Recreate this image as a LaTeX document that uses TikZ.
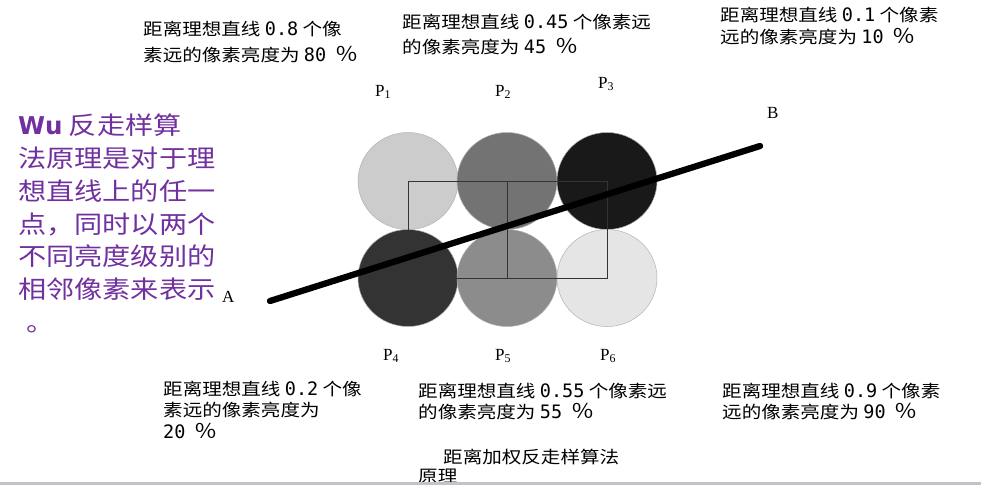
\documentclass[tikz,border=0pt]{standalone}
\usepackage{fontspec}
\newfontfamily\cjk[FakeStretch=1.15]{Noto Sans CJK SC}
\newfontfamily\monofont{DejaVu Sans Mono}
\newfontfamily\serifA{Liberation Serif}
\newfontfamily\wufont{DejaVu Sans}
\usetikzlibrary{shapes.geometric}
\definecolor{wupurple}{RGB}{112,48,160}
\definecolor{barcol}{RGB}{192,196,200}
\newcommand{\dig}[1]{{\monofont\fontsize{18.5}{18.5}\selectfont #1}}
\newcommand{\pct}{\hspace{9pt}{\cjk\fontsize{20}{20}\selectfont ％}}

\begin{document}
\begin{tikzpicture}[x=1pt, y=-1pt,
	pixel/.style={ellipse, draw=black!30, line width=0.5pt, minimum width=100pt, minimum height=97pt, inner sep=0pt},
	gridline/.style={draw=black!80, line width=0.8pt},
	note/.style={anchor=north west, align=left, inner sep=0pt, font=\cjk\fontsize{17}{#1}\selectfont},
	note/.default=25,
	plabel/.style={anchor=base west, inner sep=0pt, font=\serifA\fontsize{17}{17}\selectfont}]
		%%%%% START %%%%%
		\useasboundingbox (0, 0) rectangle (981, 485);
		
		% pixels
		\node[pixel, fill=black!20] (p1) at (408, 181) {};
		\node[pixel, fill=black!55] (p2) at (507, 181) {};
		\node[pixel, fill=black!90] (p3) at (607, 181) {};
		\node[pixel, fill=black!80] (p4) at (408, 278) {};
		\node[pixel, fill=black!45] (p5) at (507, 278) {};
		\node[pixel, fill=black!10] (p6) at (607, 278) {};
		
		\draw[gridline] (p1.center) -- (p3.center) -- (p6.center) -- (p4.center) -- cycle;
		\draw[gridline] (p2.center) -- (p5.center);
		
		% ideal line
		\coordinate (lineA) at (270, 301);
		\coordinate (lineB) at (760, 146);
		\draw[line width=6.3pt, line cap=round] (lineA) -- (lineB);
		\node[plabel] (ptA) at (222, 302) {A};
		\node[plabel] (ptB) at (767, 118) {B};
		
		\node[plabel] (lab1) at (375, 96) {P\textsubscript{1}};
		\node[plabel] (lab2) at (495, 96) {P\textsubscript{2}};
		\node[plabel] (lab3) at (598, 88) {P\textsubscript{3}};
		\node[plabel] (lab4) at (383, 360) {P\textsubscript{4}};
		\node[plabel] (lab5) at (495, 360) {P\textsubscript{5}};
		\node[plabel] (lab6) at (600, 360) {P\textsubscript{6}};
		
		% brightness notes
		\node[note=26] (note1) at (143, 20.5) {距离理想直线 \dig{0.8} 个像\\素远的像素亮度为 \dig{80}\pct};
		\node[note=25] (note2) at (402, 13.5) {距离理想直线 \dig{0.45} 个像素远\\的像素亮度为 \dig{45}\pct};
		\node[note=22] (note3) at (720, 6.5) {距离理想直线 \dig{0.1} 个像素\\远的像素亮度为 \dig{10}\pct};
		\node[note=21.5] (note4) at (163, 380.5) {距离理想直线 \dig{0.2} 个像\\素远的像素亮度为\\\dig{20}\pct};
		\node[note=21] (note5) at (418, 382.5) {距离理想直线 \dig{0.55} 个像素远\\的像素亮度为 \dig{55}\pct};
		\node[note=21] (note6) at (722, 382.5) {距离理想直线 \dig{0.9} 个像素\\远的像素亮度为 \dig{90}\pct};
		\node[note=18.5] (caption) at (418, 449) {\hspace{25pt}距离加权反走样算法\\原理};
		
		% left explanation
		\node[anchor=north west, align=left, inner sep=0pt, text=wupurple, font=\cjk\fontsize{24.5}{32.7}\selectfont] (wu) at (18, 114)
			{{\wufont\bfseries Wu} 反走样算\\法原理是对于理\\想直线上的任一\\点，同时以两个\\不同亮度级别的\\相邻像素来表示\\\hspace{8pt}。};
		
		\fill[barcol] (0, 482) rectangle (981, 485);
		%%%%% END %%%%%
\end{tikzpicture}
\end{document}
